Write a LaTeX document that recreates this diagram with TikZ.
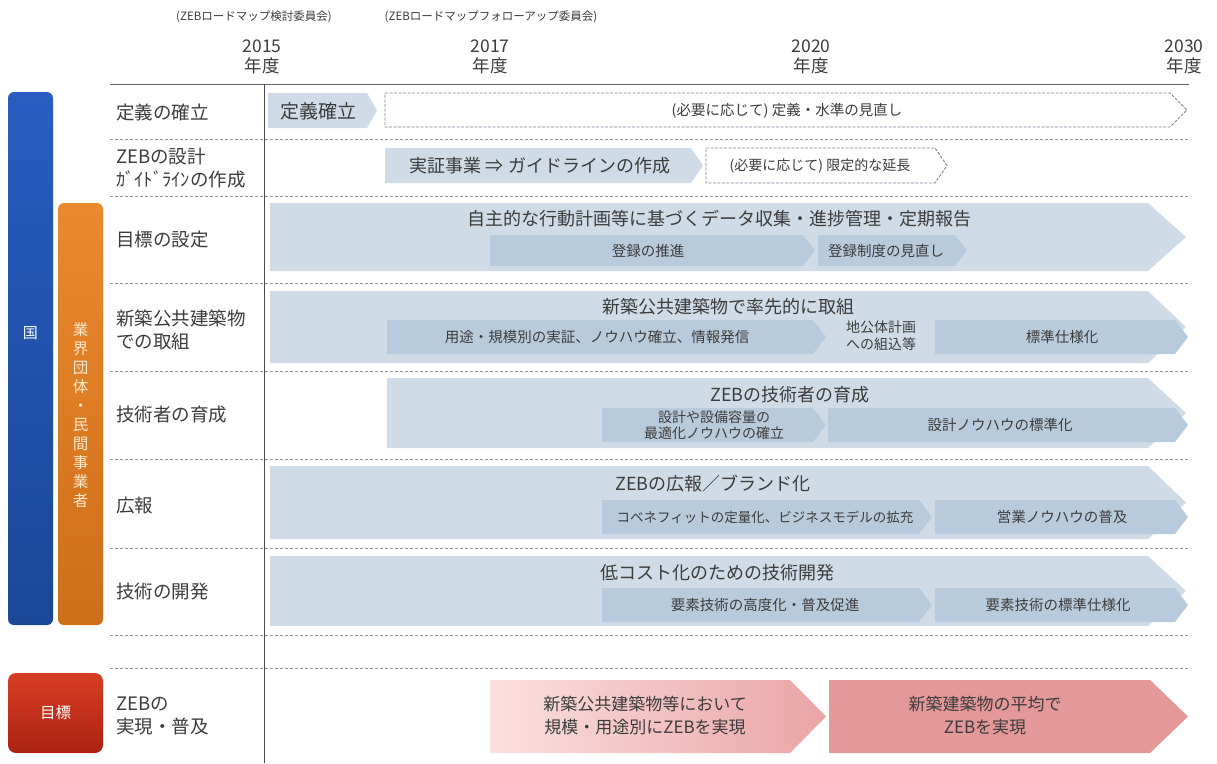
\documentclass[tikz,border=0pt]{standalone}
\usepackage{fontspec}
\setmainfont{Noto Sans CJK JP}
\definecolor{txt}{RGB}{60,60,60}
\definecolor{sepc}{RGB}{150,150,150}
\definecolor{bigc}{RGB}{207,220,232}
\definecolor{subc}{RGB}{184,203,221}
\definecolor{dashc}{RGB}{120,135,155}
\definecolor{blueT}{RGB}{40,92,192}
\definecolor{blueB}{RGB}{26,72,150}
\definecolor{orT}{RGB}{234,138,46}
\definecolor{orB}{RGB}{205,110,25}
\definecolor{orTxt}{RGB}{253,232,205}
\definecolor{redT}{RGB}{215,62,36}
\definecolor{redB}{RGB}{172,34,18}
\definecolor{pinkL}{RGB}{250,224,224}
\definecolor{pinkM}{RGB}{234,165,165}
\definecolor{pinkR}{RGB}{228,152,152}
\newcommand\chev[6][]{\path[#1] (#2,#3) -- ({#4-#6},#3) -- (#4,{(#3+#5)/2}) -- ({#4-#6},#5) -- (#2,#5) -- cycle;}
\tikzset{
  lbl/.style={anchor=west, font=\fontsize{18.5}{23}\selectfont, text=txt, align=left, inner sep=0pt},
  ttl/.style={font=\fontsize{18}{21}\selectfont, text=txt, inner sep=0pt},
  subt/.style={font=\fontsize{14.5}{17}\selectfont, text=txt, inner sep=0pt, align=center},
  small/.style={font=\fontsize{11.5}{13}\selectfont, text=txt, inner sep=0pt},
  year/.style={font=\fontsize{17.5}{20}\selectfont, text=txt, inner sep=0pt, align=center},
  sepline/.style={draw=sepc, dash pattern=on 3pt off 2pt, line width=0.8pt},
  bigbox/.style={fill=bigc},
  subbox/.style={fill=subc},
  dbox/.style={draw=dashc, dash pattern=on 3pt off 1.5pt, line width=0.9pt, fill=white},
}
\begin{document}
\begin{tikzpicture}[x=1pt,y=-1pt]
\useasboundingbox (0,0) rectangle (1217,763);
\fill[white] (0,0) rectangle (1217,763);
% header
\node[small] (h1) at (254,17) {(ZEBロードマップ検討委員会)};
\node[small] (h2) at (491,17) {(ZEBロードマップフォローアップ委員会)};
\node[year] (y15) at (262,57) {2015\\年度};
\node[year] (y17) at (490,57) {2017\\年度};
\node[year] (y20) at (811,57) {2020\\年度};
\node[year] (y30) at (1184,57) {2030\\年度};
\draw[draw=gray!80!black, line width=0.9pt] (110,84) -- (1189,84);
% separators
\foreach \yy in {139,196,283,371,459,548,635,668}{
  \draw[sepline] (110,\yy) -- (1190,\yy);
}
\draw[draw=gray!60!black, line width=0.9pt] (264,84) -- (264,763);
% left bars
\shade[top color=blueT, bottom color=blueB, rounded corners=6pt] (8,92) rectangle (53,625);
\node[font=\fontsize{15}{18}\selectfont, text=white] (kuni) at (30.5,333) {国};
\shade[top color=orT, bottom color=orB, rounded corners=6pt] (58,203) rectangle (103,625);
\node[font=\fontsize{15.5}{19}\selectfont, text=orTxt, align=center, inner sep=0pt, anchor=north] (gyokai) at (80.5,322) {業\\界\\団\\体\\・\\民\\間\\事\\業\\者};
\shade[top color=redT, bottom color=redB, rounded corners=8pt] (8,673) rectangle (103,753);
\node[font=\fontsize{15.5}{18}\selectfont, text=white] (mokuhyo) at (55.5,713) {目標};
% row labels
\node[lbl] (l1) at (116,112) {定義の確立};
\node[lbl] (l2) at (116,168) {ZEBの設計\\ｶﾞｲﾄﾞﾗｲﾝの作成};
\node[lbl] (l3) at (116,240) {目標の設定};
\node[lbl] (l4) at (116,330) {新築公共建築物\\での取組};
\node[lbl] (l5) at (116,415) {技術者の育成};
\node[lbl] (l6) at (116,505) {広報};
\node[lbl] (l7) at (116,592) {技術の開発};
\node[lbl] (l8) at (116,716) {ZEBの\\実現・普及};
% row 1
\chev[fill=bigc]{268}{93}{377}{128}{10}
\node[font=\fontsize{19}{22}\selectfont, text=txt, inner sep=0pt] (r1a) at (318,111) {定義確立};
\chev[dbox]{385}{93}{1187}{127}{17}
\node[subt] (r1b) at (787,111) {(必要に応じて) 定義・水準の見直し};
% row 2
\chev[fill=bigc]{385}{148}{703}{183}{12}
\node[font=\fontsize{18}{21}\selectfont, text=txt, inner sep=0pt] (r2a) at (540,166) {実証事業 ⇒ ガイドラインの作成};
\chev[dbox]{706}{148}{947}{183}{12}
\node[subt, font=\fontsize{14}{16}\selectfont] (r2b) at (820,166) {(必要に応じて) 限定的な延長};
% row 3
\chev[bigbox]{270}{203}{1186}{271}{38}
\node[ttl] (r3t) at (719,219) {自主的な行動計画等に基づくデータ収集・進捗管理・定期報告};
\chev[subbox]{490}{235}{815}{266}{12}
\chev[subbox]{818}{235}{967}{266}{12}
\node[subt] (r3a) at (648,251) {登録の推進};
\node[subt] (r3b) at (886,251) {登録制度の見直し};
% row 4
\chev[bigbox]{270}{291}{1186}{363}{38}
\node[ttl] (r4t) at (728,307) {新築公共建築物で率先的に取組};
\chev[subbox]{387}{320}{826}{354}{13}
\chev[subbox]{935}{320}{1188}{354}{13}
\node[subt] (r4a) at (597,337) {用途・規模別の実証、ノウハウ確立、情報発信};
\node[subt, font=\fontsize{14}{17}\selectfont] (r4b) at (881,336) {地公体計画\\への組込等};
\node[subt] (r4c) at (1062,337) {標準仕様化};
% row 5
\chev[bigbox]{387}{378}{1186}{448}{38}
\node[ttl] (r5t) at (790,395) {ZEBの技術者の育成};
\chev[subbox]{602}{408}{826}{442}{13}
\chev[subbox]{828}{408}{1188}{442}{13}
\node[subt, font=\fontsize{14}{16}\selectfont] (r5a) at (714,425) {設計や設備容量の\\最適化ノウハウの確立};
\node[subt] (r5b) at (1000,425) {設計ノウハウの標準化};
% row 6
\chev[bigbox]{270}{466}{1186}{539}{38}
\node[ttl] (r6t) at (713,484) {ZEBの広報／ブランド化};
\chev[subbox]{602}{500}{932}{534}{13}
\chev[subbox]{935}{500}{1188}{534}{13}
\node[subt, font=\fontsize{13.5}{16}\selectfont] (r6a) at (765,517) {コベネフィットの定量化、ビジネスモデルの拡充};
\node[subt] (r6b) at (1062,517) {営業ノウハウの普及};
% row 7
\chev[bigbox]{270}{556}{1186}{626}{38}
\node[ttl] (r7t) at (717,573) {低コスト化のための技術開発};
\chev[subbox]{602}{588}{932}{622}{13}
\chev[subbox]{935}{588}{1188}{622}{13}
\node[subt] (r7a) at (765,605) {要素技術の高度化・普及促進};
\node[subt] (r7b) at (1058,605) {要素技術の標準仕様化};
% goals
\chev[left color=pinkL, right color=pinkM]{490}{680}{826}{753}{36}
\chev[fill=pinkR]{829}{680}{1188}{753}{38}
\node[font=\fontsize{17}{23}\selectfont, text=txt, align=center, inner sep=0pt] (g1) at (645,716) {新築公共建築物等において\\規模・用途別にZEBを実現};
\node[font=\fontsize{17}{23}\selectfont, text=txt, align=center, inner sep=0pt] (g2) at (985,716) {新築建築物の平均で\\ZEBを実現};
\end{tikzpicture}
\end{document}
